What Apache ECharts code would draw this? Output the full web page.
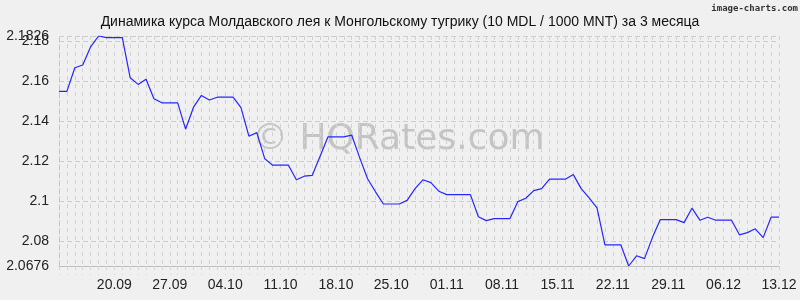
<!DOCTYPE html>
<html>
<head>
<meta charset="utf-8">
<script src="https://cdn.jsdelivr.net/npm/echarts@6/dist/echarts.min.js"></script>
<style>html,body{margin:0;padding:0;background:#f0f0f0;}#c{width:800px;height:300px;}</style>
</head>
<body>
<div id="c"></div>
<script>
const titleText = 'Динамика курса Молдавского лея к Монгольскому тугрику (10 MDL / 1000 MNT) за 3 месяца';

const dates = [
 '13.09','14.09','15.09','16.09','17.09','18.09','19.09','20.09','21.09','22.09','23.09','24.09','25.09','26.09','27.09','28.09','29.09','30.09',
 '01.10','02.10','03.10','04.10','05.10','06.10','07.10','08.10','09.10','10.10','11.10','12.10','13.10','14.10','15.10','16.10','17.10','18.10','19.10','20.10','21.10','22.10','23.10','24.10','25.10','26.10','27.10','28.10','29.10','30.10','31.10',
 '01.11','02.11','03.11','04.11','05.11','06.11','07.11','08.11','09.11','10.11','11.11','12.11','13.11','14.11','15.11','16.11','17.11','18.11','19.11','20.11','21.11','22.11','23.11','24.11','25.11','26.11','27.11','28.11','29.11','30.11',
 '01.12','02.12','03.12','04.12','05.12','06.12','07.12','08.12','09.12','10.12','11.12','12.12','13.12'
];

const rates = [
 2.1549,2.1549,2.1667,2.1681,2.1772,2.1826,2.1818,2.1818,2.1818,2.1617,
 2.1584,2.1610,2.1512,2.1492,2.1492,2.1492,2.1360,2.1470,2.1529,2.1506,
 2.1520,2.1520,2.1520,2.1468,2.1325,2.1343,2.1213,2.1180,2.1180,2.1180,
 2.1107,2.1125,2.1129,2.1225,2.1322,2.1322,2.1322,2.1330,2.1218,2.1112,
 2.1047,2.0986,2.0986,2.0986,2.1004,2.1063,2.1107,2.1093,2.1050,2.1033,
 2.1033,2.1033,2.1033,2.0922,2.0903,2.0913,2.0913,2.0913,2.0998,2.1015,
 2.1053,2.1063,2.1110,2.1110,2.1110,2.1133,2.1063,2.1017,2.0967,2.0782,
 2.0782,2.0782,2.0676,2.0727,2.0713,2.0818,2.0908,2.0908,2.0908,2.0893,
 2.0965,2.0905,2.0920,2.0905,2.0905,2.0905,2.0832,2.0843,2.0862,2.0818,
 2.0920,2.0920
];

const yMin = 2.0676;
const yMax = 2.1826;
const yTicks = [2.0676, 2.08, 2.1, 2.12, 2.14, 2.16, 2.18, 2.1826];
const yLabelsMain = [2.0676, 2.08, 2.1, 2.12, 2.14, 2.16, 2.1826];
const yLabelsExtra = [2.18];
const xLabelStep = 7;

const chart = echarts.init(document.getElementById('c'), null, {renderer: 'canvas'});
const font = 'Liberation Sans, Arial, sans-serif';
const fmt = function (v) { return String(+(+v).toFixed(4)); };
chart.setOption({
  backgroundColor: '#f0f0f0',
  animation: false,
  title: {
    text: titleText,
    left: 'center',
    top: 10,
    textStyle: {fontSize: 14, fontWeight: 'normal', color: '#111', fontFamily: font}
  },
  graphic: [
    {
      type: 'text', right: 2, top: 4, z: 10,
      style: {text: 'image-charts.com', fill: '#333', font: 'bold 9px "DejaVu Sans Mono", monospace'}
    },
    {
      type: 'text', left: 252, top: 122, z: 0,
      style: {text: '© HQRates.com', fill: '#c4c4c4', font: '36px "DejaVu Sans", sans-serif'}
    }
  ],
  grid: {left: 59, right: 21, top: 36, bottom: 34, containLabel: false},
  xAxis: {
    type: 'category',
    data: dates,
    boundaryGap: false,
    axisLine: {show: true, lineStyle: {color: '#bdbdbd', width: 1}},
    axisTick: {show: true, interval: 0, length: 9, lineStyle: {color: '#d6d6d6', type: [4, 4]}},
    axisLabel: {
      interval: function (idx) { return idx > 0 && idx % xLabelStep === 0; },
      margin: 12,
      fontSize: 14,
      color: '#222',
      fontFamily: font
    },
    splitLine: {show: true, interval: 0, lineStyle: {color: '#d2d2d2', type: [4, 4], width: 1}}
  },
  yAxis: [
    {
      type: 'value',
      min: yMin,
      max: yMax,
      axisLine: {show: true, lineStyle: {color: '#c4c4c4', type: [4, 4]}},
      axisTick: {show: false, customValues: yTicks},
      axisLabel: {
        customValues: yLabelsMain,
        showMinLabel: true,
        showMaxLabel: true,
        margin: 10,
        fontSize: 14,
        color: '#222',
        fontFamily: font,
        formatter: fmt
      },
      splitLine: {show: true, lineStyle: {color: '#cccccc', type: [5, 3], width: 1}}
    },
    {
      type: 'value',
      position: 'left',
      min: yMin,
      max: yMax,
      axisLine: {show: false},
      axisTick: {show: false, customValues: yLabelsExtra},
      axisLabel: {
        customValues: yLabelsExtra,
        showMinLabel: true,
        showMaxLabel: true,
        margin: 10,
        fontSize: 14,
        color: '#222',
        fontFamily: font,
        formatter: fmt
      },
      splitLine: {show: false}
    }
  ],
  series: [{
    type: 'line',
    data: rates,
    yAxisIndex: 0,
    symbol: 'none',
    smooth: false,
    lineStyle: {color: '#2626ff', width: 1.2},
    z: 5
  }]
});
</script>
</body>
</html>
